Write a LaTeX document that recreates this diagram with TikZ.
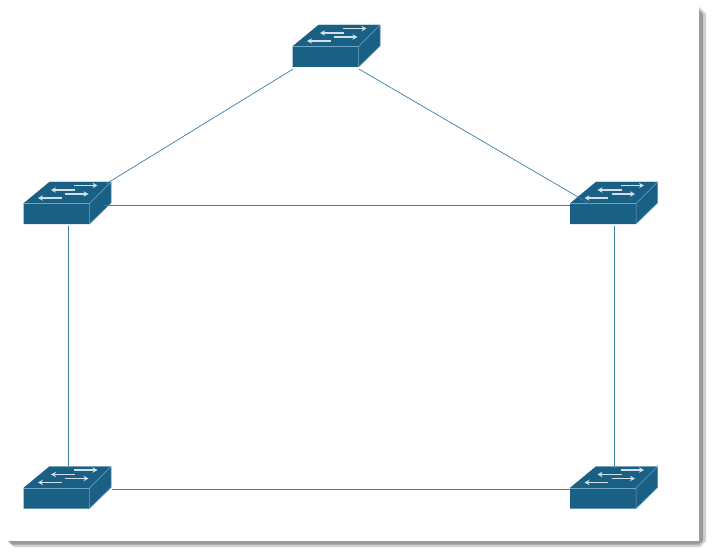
\documentclass[tikz,border=0pt]{standalone}
\usepackage{tikz}
\usetikzlibrary{arrows.meta}
\definecolor{switchblue}{HTML}{1A6085}
\definecolor{switchedge}{HTML}{6FA6C8}
\definecolor{linkblue}{HTML}{3E7FA8}
\definecolor{shadowdark}{HTML}{9A9A9A}
\definecolor{shadowlight}{HTML}{D0D0D0}
\tikzstyle{switchnode} = [rectangle, minimum width=88pt, minimum height=42pt, inner sep=0pt]
\tikzstyle{link} = [draw=linkblue, line width=0.7pt]
\tikzstyle{face} = [fill=switchblue, draw=switchedge, line width=0.5pt, line join=round]
\tikzstyle{flow} = [draw=white!80!switchblue, line width=1.4pt, -{Stealth[length=5pt,width=5.5pt]}]
% one switch icon, drawn around the centre of its node
\newcommand{\drawswitch}[1]{
  \begin{scope}[shift={(#1.center)}]
    \fill[switchblue] (-44.5,-1.5) -- (-18.5,-23) -- (43,-23) -- (43,-2) -- (21.5,19) -- (-44.5,19) -- cycle;
    \draw[face, draw=none] (-44.5,-1.5) -- (-18.5,-23) -- (43,-23) -- (21.5,-1.5) -- cycle;
    \draw[face] (21.5,-1.5) -- (43,-23) -- (43,-2) -- (21.5,19) -- cycle;
    \draw[switchedge, line width=0.5pt] (-44.5,-1.5) -- (21.5,-1.5);
    \draw[flow] (6,-19.5) -- (29.5,-19.5);
    \draw[flow] (7,-15) -- (-17,-15);
    \draw[flow] (-3,-11) -- (20.5,-11);
    \draw[flow] (-6.5,-7) -- (-30,-7);
  \end{scope}
}
\begin{document}
\begin{tikzpicture}[x=1pt, y=-1pt]
  \useasboundingbox (0,0) rectangle (714,556);

  % page shadow
  \fill[shadowlight] (699,7) -- (706,14) -- (706,541) -- (700,547) -- (14,547) -- (8,541) -- cycle;
  \fill[white] (0,0) rectangle (699,541);
  \fill[shadowdark] (699,10) -- (703,14) -- (703,541) -- (699,544.5) -- (12,544.5) -- (8.5,541) -- (699,541) -- cycle;

  \node (swtop) [switchnode] at (337,48) {};
  \node (swleft) [switchnode] at (68,205) {};
  \node (swright) [switchnode] at (614.5,205) {};
  \node (swbl) [switchnode] at (68,489.5) {};
  \node (swbr) [switchnode] at (614.5,489.5) {};

  \foreach \sw in {swtop,swleft,swright,swbl,swbr} {
    \drawswitch{\sw}
  }

  \draw [link] (swtop.south west) -- ([xshift=-6pt]swleft.north east);
  \draw [link] ([xshift=-22pt]swtop.south east) -- ([xshift=21.5pt]swright.west);
  \draw [link] ([xshift=-8pt]swleft.east) -- (swright.west);
  \draw [link] (swleft) -- (swbl);
  \draw [link] (swright) -- (swbr);
  \draw [link] (swbl) -- (swbr);
\end{tikzpicture}
\end{document}
